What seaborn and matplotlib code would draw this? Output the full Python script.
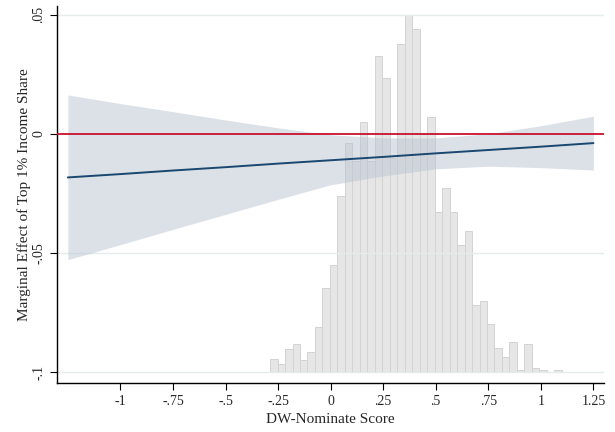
import matplotlib
matplotlib.use("Agg")
import matplotlib.pyplot as plt
import numpy as np
import pandas as pd
import seaborn as sns

# marginal effect line and 95% CI
dw_grid = [-1.25, -1.0, -0.75, -0.5, -0.25, 0.0, 0.25, 0.5, 0.75, 1.0, 1.25]
me_est = [-0.0182, -0.0168, -0.0153, -0.0139, -0.0124, -0.0110,
          -0.0096, -0.0081, -0.0067, -0.0053, -0.0038]
ci_upper = [0.0164, 0.0128, 0.0094, 0.0059, 0.0026, -0.0003,
            -0.0016, -0.0016, 0.0001, 0.0035, 0.0075]
ci_lower = [-0.0527, -0.0464, -0.0400, -0.0337, -0.0274, -0.0213,
            -0.0176, -0.0146, -0.0135, -0.0141, -0.0151]

# histogram of DW-Nominate scores (percent of obs per bin)
hist_start = -0.288
hist_width = 0.03558
hist_pct = [0.28, 0.18, 0.49, 0.59, 0.26, 0.43, 0.94, 1.75, 2.22, 3.65,
            4.73, 4.36, 5.16, 4.36, 6.53, 6.07, 4.42, 6.77, 7.38, 7.08,
            4.92, 5.28, 3.31, 3.80, 3.32, 2.64, 2.91, 1.40, 1.48, 1.00,
            0.51, 0.32, 0.63, 0.05, 0.59, 0.09, 0.05, 0.00, 0.05]

xticks = [-1, -0.75, -0.5, -0.25, 0, 0.25, 0.5, 0.75, 1, 1.25]
xticklabels = ["-1", "-.75", "-.5", "-.25", "0", ".25", ".5", ".75", "1", "1.25"]
yticks = [0.05, 0, -0.05, -0.1]
yticklabels = [".05", "0", "-.05", "-.1"]

sns.set_style("white")
plt.rcParams["font.family"] = ["Liberation Serif", "DejaVu Serif"]

fig = plt.figure(figsize=(6.15, 4.32), dpi=100)
ax = fig.add_axes([0.0932, 0.1141, 0.8888, 0.8720])
ax2 = ax.twinx()

ylo, yhi = -0.1043, 0.0537

# histogram on twin axis, scaled so the tallest bar reaches .05
n_bins = len(hist_pct)
centers = hist_start + hist_width * (np.arange(n_bins) + 0.5)
hist_df = pd.DataFrame({"dw": centers, "pct": hist_pct})
sns.histplot(data=hist_df, x="dw", weights="pct", binwidth=hist_width,
             binrange=(hist_start, hist_start + hist_width * n_bins), ax=ax2,
             color="#e6e6e6", edgecolor="#d3d3d3", linewidth=0.7, alpha=1)
maxv = max(hist_pct)
ax2.set_ylim((ylo + 0.1) * maxv / 0.15, (yhi + 0.1) * maxv / 0.15)
ax2.set_axis_off()

# main axis drawn above the histogram
ax.set_zorder(ax2.get_zorder() + 1)
ax.patch.set_visible(False)

for yv in [0.05, -0.05, -0.1]:
    ax.axhline(yv, color="#e4ecec", linewidth=1.0, zorder=1)

ax.fill_between(dw_grid, ci_lower, ci_upper, color="#bbc5d3", alpha=0.5,
                linewidth=0, zorder=2)
line_df = pd.DataFrame({"dw": dw_grid, "me": me_est})
sns.lineplot(data=line_df, x="dw", y="me", ax=ax, color="#1a476f",
             linewidth=1.4, zorder=4)
ax.axhline(0, color="#c8102e", linewidth=1.3, zorder=3)

ax.set_xlim(-1.3, 1.3)
ax.set_ylim(ylo, yhi)
ax.set_xticks(xticks)
ax.set_xticklabels(xticklabels, fontsize=10)
ax.set_yticks(yticks)
ax.set_yticklabels(yticklabels, fontsize=10, rotation=90, va="center")
ax.tick_params(axis="both", direction="out", length=5, width=0.8,
               color="black", left=True, bottom=True)
ax.set_xlabel("DW-Nominate Score", fontsize=11, labelpad=4)
ax.set_ylabel("Marginal Effect of Top 1% Income Share", fontsize=11, labelpad=1)

for side in ["top", "right"]:
    ax.spines[side].set_visible(False)
for side in ["left", "bottom"]:
    ax.spines[side].set_color("black")
    ax.spines[side].set_linewidth(1.0)

fig.savefig("out.png", dpi=100)
